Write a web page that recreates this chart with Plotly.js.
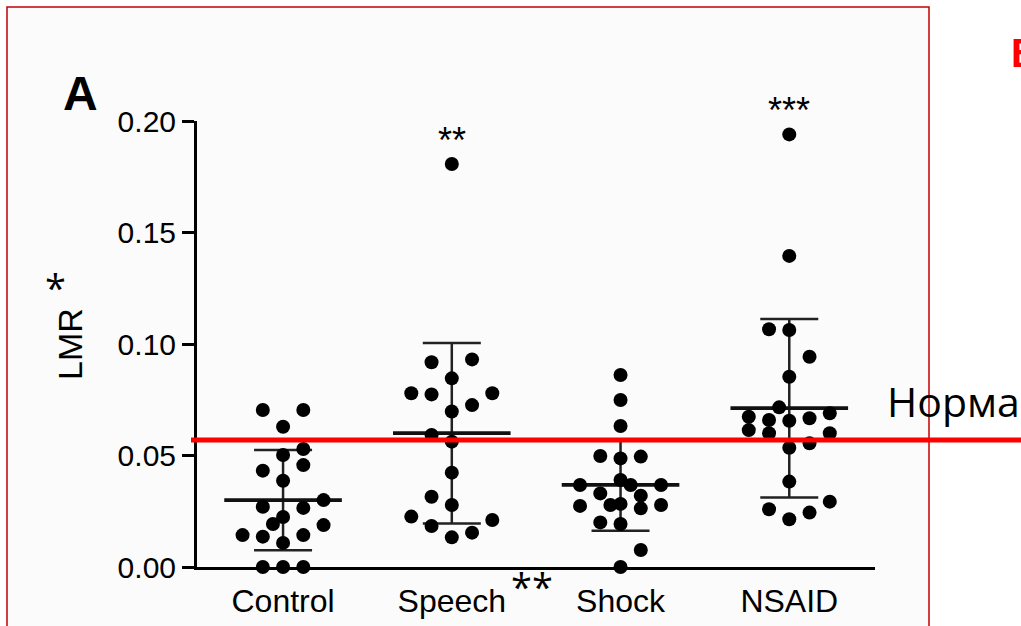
<!DOCTYPE html>
<html>
<head>
<meta charset="utf-8">
<script src="https://cdn.plot.ly/plotly-3.0.1.min.js"></script>
<style>html,body{margin:0;padding:0;background:#fff;}#chart{width:1021px;height:626px;}</style>
</head>
<body>
<div id="chart"></div>
<script>
// ---- data ----
const categories = ['Control', 'Speech', 'Shock', 'NSAID'];

const controlValues = [0.0704, 0.0704, 0.0629, 0.0529, 0.0502, 0.0457, 0.0432, 0.0387, 0.0300, 0.0270, 0.0265, 0.0224, 0.0193, 0.0188, 0.0143, 0.0136, 0.0143, 0.0108, 0.0, 0.0, 0.0];
const controlJitter = [-0.12, 0.12, 0, 0.12, 0, 0.12, -0.12, 0, 0.24, -0.12, 0.12, 0, -0.06, 0.24, -0.24, -0.12, 0.12, 0, -0.12, 0, 0.12];

const speechValues = [0.1807, 0.0931, 0.0918, 0.0846, 0.0779, 0.0774, 0.0779, 0.0726, 0.0697, 0.0592, 0.0562, 0.0423, 0.0315, 0.0278, 0.0226, 0.0211, 0.0184, 0.0154, 0.0133];
const speechJitter = [0, 0.12, -0.12, 0, -0.24, -0.12, 0.24, 0.12, 0, -0.12, 0, 0, -0.12, 0, -0.24, 0.24, -0.12, 0.12, 0];

const shockValues = [0.0861, 0.0749, 0.0632, 0.0498, 0.0487, 0.0495, 0.0390, 0.0368, 0.0368, 0.0368, 0.0330, 0.0320, 0.0274, 0.0278, 0.0283, 0.0263, 0.0278, 0.0200, 0.0193, 0.0076, 0.0];
const shockJitter = [0, 0, 0, -0.12, 0, 0.12, 0, -0.24, 0.06, 0.24, -0.12, 0.12, -0.24, -0.06, 0, 0.12, 0.24, -0.12, 0, 0.12, 0];

const nsaidValues = [0.1940, 0.1395, 0.1066, 0.1063, 0.0943, 0.0853, 0.0716, 0.0689, 0.0674, 0.0667, 0.0659, 0.0656, 0.0614, 0.0600, 0.0600, 0.0555, 0.0535, 0.0383, 0.0293, 0.0259, 0.0244, 0.0214];
const nsaidJitter = [0, 0, -0.12, 0, 0.12, 0, -0.06, 0.24, -0.24, 0.12, -0.12, 0, -0.24, -0.12, 0.24, 0.12, 0, 0, 0.24, -0.12, 0.12, 0];

const groupMeans = [0.0300, 0.0600, 0.0368, 0.0712];
const groupSD = [0.0225, 0.0405, 0.0205, 0.0400];

const significance = ['', '**', '', '***'];
const normValue = 0.057;
const normLabel = 'Норма';
const yTicks = [0, 0.05, 0.10, 0.15, 0.20];

// ---- build traces ----
const groups = [
  {values: controlValues, jitter: controlJitter},
  {values: speechValues, jitter: speechJitter},
  {values: shockValues, jitter: shockJitter},
  {values: nsaidValues, jitter: nsaidJitter}
];

const catIdx = categories.map((c, i) => i);
const traces = [];

// mean +/- SD
traces.push({
  type: 'scatter', mode: 'markers',
  x: catIdx, y: groupMeans,
  marker: {symbol: 'line-ew-open', size: 84, color: '#111', line: {width: 3.8, color: '#111'}},
  error_y: {type: 'data', array: groupSD, visible: true, color: '#222', thickness: 2.5, width: 29},
  cliponaxis: false, hoverinfo: 'skip', showlegend: false
});

// individual points
groups.forEach((g, i) => {
  traces.push({
    type: 'scatter', mode: 'markers',
    x: g.values.map((v, k) => i + g.jitter[k]),
    y: g.values,
    marker: {size: 14, color: '#000'},
    cliponaxis: false, showlegend: false, name: categories[i]
  });
});

// pixel helpers for layout decorations
const L = 197, R = 875, T = 121, B = 567;
const px = p => (p - L) / (R - L);
const py = p => (B - p) / (B - T);

const annotations = [
  {text: '<b>A</b>', xref: 'paper', yref: 'paper', x: px(80), y: py(93), xanchor: 'center', yanchor: 'middle', showarrow: false,
   font: {family: 'Liberation Sans, Arial, sans-serif', size: 48, color: '#000'}},
  {text: '*', xref: 'paper', yref: 'paper', x: px(55), y: py(287), xanchor: 'center', yanchor: 'middle', showarrow: false,
   font: {family: 'Open Sans, sans-serif', size: 38, color: '#000'}},
  {text: '**', xref: 'paper', yref: 'paper', x: px(532), y: py(586), xanchor: 'center', yanchor: 'middle', showarrow: false,
   font: {family: 'Open Sans, sans-serif', size: 38, color: '#000'}},
  {text: normLabel, xref: 'paper', yref: 'paper', x: px(885), y: py(401), xanchor: 'left', yanchor: 'middle', showarrow: false,
   font: {family: 'Open Sans, Noto Sans, sans-serif', size: 41, color: '#000'}},
  {text: '<b>B</b>', xref: 'paper', yref: 'paper', x: px(1009), y: py(53), xanchor: 'left', yanchor: 'middle', showarrow: false,
   font: {family: 'Liberation Sans, Arial, sans-serif', size: 40, color: '#ff0000'}}
];
significance.forEach((s, i) => {
  if (!s) return;
  const top = Math.max(...groups[i].values);
  annotations.push({text: s, x: i, y: top, xref: 'x', yref: 'y', xanchor: 'center', yanchor: 'bottom', yshift: 1,
    showarrow: false, font: {family: 'Liberation Sans, Arial, sans-serif', size: 36, color: '#000'}});
});

const layout = {
  width: 1021, height: 626,
  margin: {l: L, r: 1021 - R, t: T, b: 626 - B, pad: 0},
  paper_bgcolor: '#ffffff', plot_bgcolor: 'rgba(0,0,0,0)',
  font: {family: 'Liberation Sans, Arial, sans-serif', color: '#000'},
  showlegend: false,
  xaxis: {
    range: [-0.51, 3.508], tickvals: catIdx, ticktext: categories,
    showline: true, linewidth: 3, linecolor: '#000', ticks: '', showgrid: false, zeroline: false,
    tickfont: {size: 32, color: '#000'}, ticklabelstandoff: 4, fixedrange: true
  },
  yaxis: {
    range: [0, 0.2], tickvals: yTicks, tickformat: '.2f',
    showline: true, linewidth: 3, linecolor: '#000', ticks: 'outside', ticklen: 12, tickwidth: 3, tickcolor: '#000',
    showgrid: false, zeroline: false, tickfont: {size: 30, color: '#000'},
    title: {text: 'LMR', font: {size: 34, color: '#000'}, standoff: 25}
  },
  shapes: [
    {type: 'rect', xref: 'paper', yref: 'paper', x0: px(7), x1: px(929), y0: py(7), y1: py(660),
     line: {color: '#c40000', width: 1.5}, fillcolor: 'rgba(0,0,0,0.015)', layer: 'below'},
    {type: 'line', xref: 'paper', yref: 'y', x0: px(191), x1: px(1030), y0: normValue, y1: normValue,
     line: {color: '#ff0000', width: 5}, layer: 'above'}
  ],
  annotations: annotations
};

Plotly.newPlot('chart', traces, layout, {displayModeBar: false, staticPlot: true});
</script>
</body>
</html>
